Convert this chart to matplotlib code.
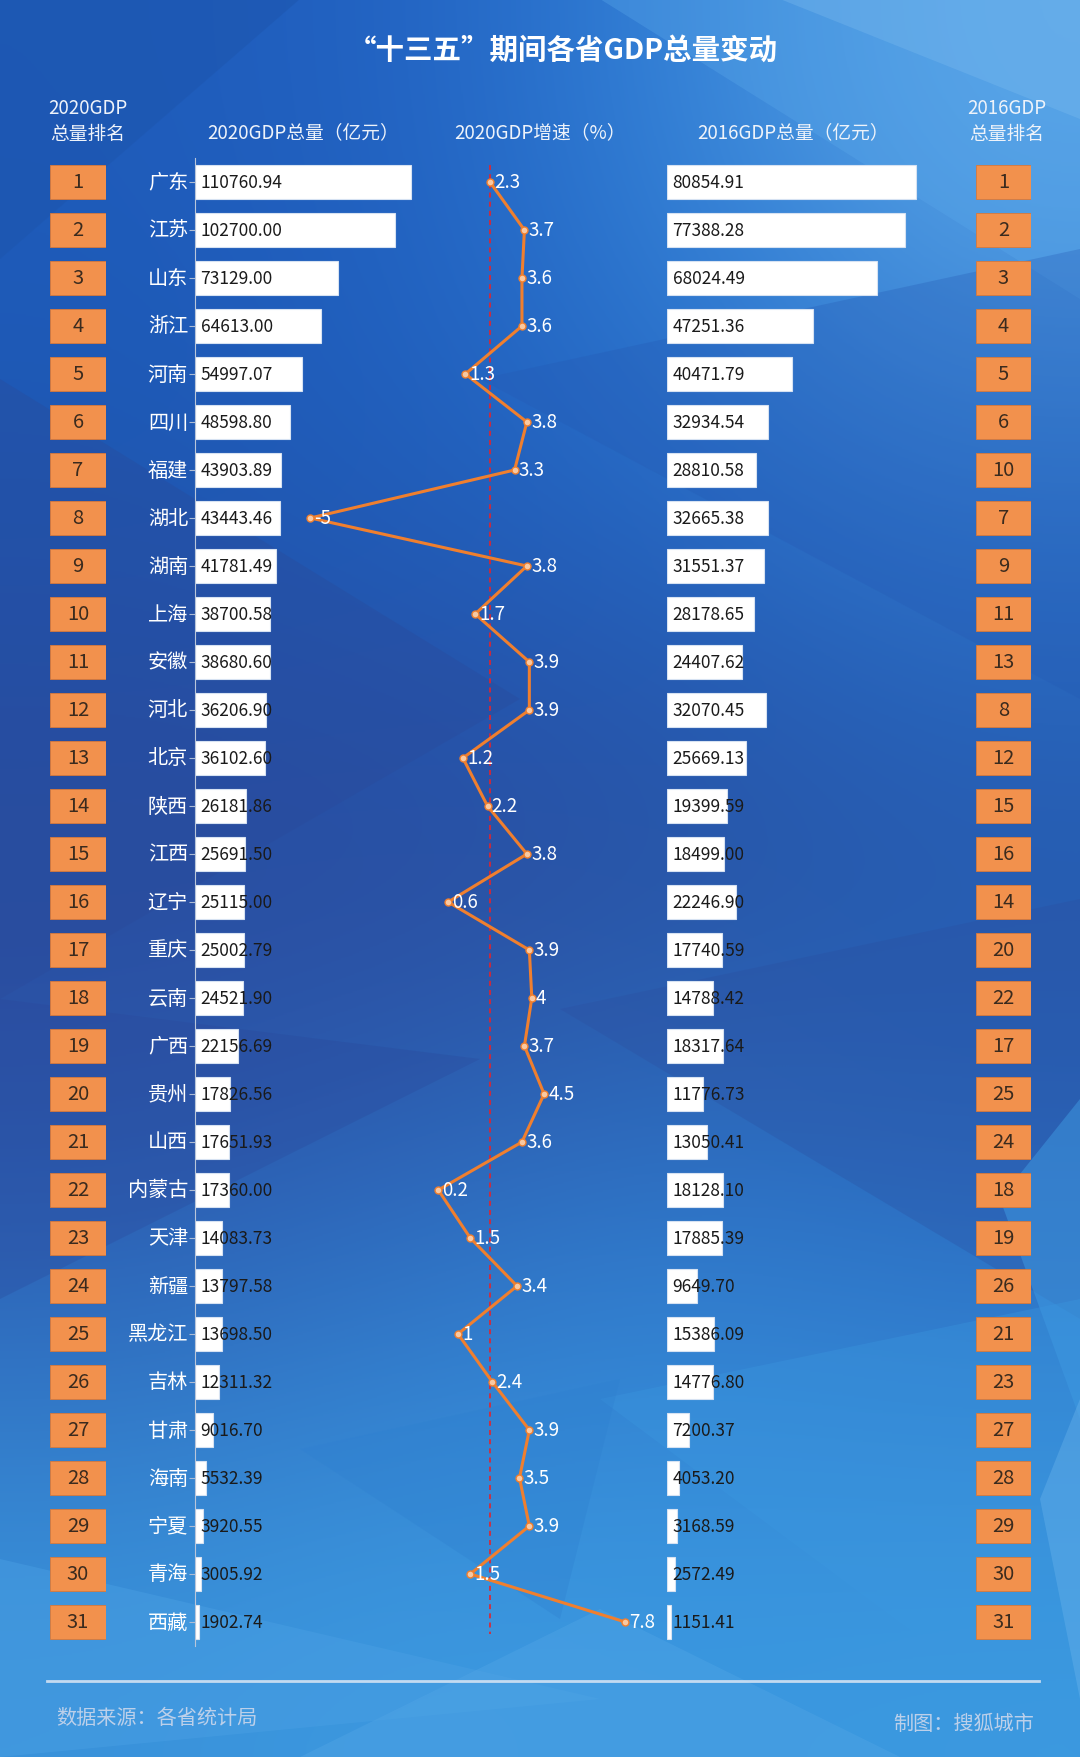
import numpy as np
import matplotlib.pyplot as plt
from matplotlib.patches import Polygon
from matplotlib.colors import to_rgb

plt.rcParams['font.family'] = ['Noto Sans CJK SC', 'DejaVu Sans']

provinces = ['广东', '江苏', '山东', '浙江', '河南', '四川', '福建', '湖北', '湖南', '上海',
             '安徽', '河北', '北京', '陕西', '江西', '辽宁', '重庆', '云南', '广西', '贵州',
             '山西', '内蒙古', '天津', '新疆', '黑龙江', '吉林', '甘肃', '海南', '宁夏', '青海', '西藏']
gdp_2020 = [110760.94, 102700.00, 73129.00, 64613.00, 54997.07, 48598.80, 43903.89, 43443.46,
            41781.49, 38700.58, 38680.60, 36206.90, 36102.60, 26181.86, 25691.50, 25115.00,
            25002.79, 24521.90, 22156.69, 17826.56, 17651.93, 17360.00, 14083.73, 13797.58,
            13698.50, 12311.32, 9016.70, 5532.39, 3920.55, 3005.92, 1902.74]
growth_2020 = [2.3, 3.7, 3.6, 3.6, 1.3, 3.8, 3.3, -5, 3.8, 1.7, 3.9, 3.9, 1.2, 2.2, 3.8, 0.6,
               3.9, 4, 3.7, 4.5, 3.6, 0.2, 1.5, 3.4, 1, 2.4, 3.9, 3.5, 3.9, 1.5, 7.8]
gdp_2016 = [80854.91, 77388.28, 68024.49, 47251.36, 40471.79, 32934.54, 28810.58, 32665.38,
            31551.37, 28178.65, 24407.62, 32070.45, 25669.13, 19399.59, 18499.00, 22246.90,
            17740.59, 14788.42, 18317.64, 11776.73, 13050.41, 18128.10, 17885.39, 9649.70,
            15386.09, 14776.80, 7200.37, 4053.20, 3168.59, 2572.49, 1151.41]
rank_2020 = list(range(1, 32))
rank_2016 = [1, 2, 3, 4, 5, 6, 10, 7, 9, 11, 13, 8, 12, 15, 16, 14, 20, 22, 17, 25, 24, 18,
             19, 26, 21, 23, 27, 28, 29, 30, 31]
national_growth = 2.3

W, H = 1080, 1758
fig = plt.figure(figsize=(W / 100, H / 100), dpi=100)


def box(x0, x1, y0=159, y1=1647):
    return [x0 / W, 1 - y1 / H, (x1 - x0) / W, (y1 - y0) / H]


# background: blue gradient with a few low-poly facets
bg = fig.add_axes([0, 0, 1, 1], zorder=-10)
bg.set_xlim(0, W)
bg.set_ylim(H, 0)
bg.axis('off')
grid = [['#1f5cbb', '#2262c2', '#3282d8', '#5aa6e8'],
        ['#1d57b2', '#1f5dba', '#2264c2', '#2a72cb'],
        ['#2b4a9b', '#2c4899', '#294d9c', '#2555a9'],
        ['#2a5db3', '#2c6bc0', '#2f7bcf', '#2b6ec4'],
        ['#3a94dc', '#3d9be1', '#3a98e0', '#3c9be1']]
img = np.array([[to_rgb(c) for c in row] for row in grid])
bg.imshow(img, extent=(0, W, H, 0), aspect='auto', interpolation='bicubic')
facets = [([(0, 0), (300, 0), (0, 260)], '#1d55ad', 0.5),
          ([(600, 0), (1080, 0), (1080, 300)], '#5aa8ea', 0.35),
          ([(780, 0), (1080, 0), (1080, 120)], '#7dbcef', 0.35),
          ([(0, 380), (520, 700), (0, 1000)], '#2a4a9a', 0.35),
          ([(480, 380), (1080, 250), (1080, 700)], '#2459b4', 0.3),
          ([(0, 1000), (480, 1060), (0, 1300)], '#2a479a', 0.3),
          ([(560, 1010), (1080, 900), (1080, 1320)], '#2b4e9f', 0.3),
          ([(1000, 1200), (1080, 1100), (1080, 1420)], '#3f9be2', 0.5),
          ([(0, 1560), (600, 1700), (0, 1758)], '#4aa0e4', 0.45),
          ([(300, 1758), (600, 1610), (900, 1758)], '#52a6e6', 0.4),
          ([(600, 1400), (1080, 1300), (1080, 1758)], '#3b98e0', 0.35),
          ([(300, 1450), (620, 1380), (560, 1620)], '#2e80d0', 0.35),
          ([(1040, 1500), (1080, 1400), (1080, 1700)], '#6ab4ec', 0.4)]
for pts, col, al in facets:
    bg.add_patch(Polygon(pts, closed=True, facecolor=col, edgecolor='none', alpha=al))
bg.plot([47, 1039], [1682, 1682], color='#dbe6f4', lw=2, alpha=0.85)

y = np.arange(len(provinces))

# 2020 GDP bars
ax20 = fig.add_axes(box(195, 520))
ax20.set_facecolor('none')
ax20.barh(y, gdp_2020, height=0.71, color='white', edgecolor='#d6e2f2', lw=0.8)
ax20.set_xlim(0, 325 / 0.00195)
ax20.set_ylim(30.5, -0.5)
ax20.set_yticks(y)
ax20.set_yticklabels([])
ax20.tick_params(axis='y', length=4, color='#aebcd4')
ax20.set_xticks([])
for s in ['top', 'right', 'bottom']:
    ax20.spines[s].set_visible(False)
ax20.spines['left'].set_color('#b9c6da')
ax20.spines['left'].set_linewidth(0.8)
for i, p in enumerate(provinces):
    ax20.annotate(p, (0, i), xytext=(-5, 0), textcoords='offset points',
                  ha='right', va='center', color='white', fontsize=14.5)
for i, v in enumerate(gdp_2020):
    ax20.annotate(f'{v:.2f}', (0, i), xytext=(4, 0), textcoords='offset points',
                  ha='left', va='center', color='#1a1a1a', fontsize=12.5)

# growth line
axl = fig.add_axes(box(300, 660))
axl.set_facecolor('none')
axl.set_xlim(-5.42, 9.21)
axl.set_ylim(30.5, -0.5)
axl.axis('off')
axl.vlines(national_growth, -0.35, 30.25, colors='#e3232d', linestyles=(0, (3, 2.5)),
           lw=1.2, zorder=1)
axl.plot(growth_2020, y, color='#f07f2e', lw=2.2, marker='o', ms=5,
         mfc='#f9c9a2', mec='#f07f2e', mew=1, zorder=2)
for i, g in enumerate(growth_2020):
    axl.annotate(f'{g:g}', (g, i), xytext=(3, 0), textcoords='offset points',
                 ha='left', va='center', color='white', fontsize=13.5, zorder=3)

# 2016 GDP bars
ax16 = fig.add_axes(box(667, 960))
ax16.set_facecolor('none')
ax16.barh(y, gdp_2016, height=0.71, color='white', edgecolor='#d6e2f2', lw=0.8)
ax16.set_xlim(0, 293 / 0.00308)
ax16.set_ylim(30.5, -0.5)
ax16.axis('off')
for i, v in enumerate(gdp_2016):
    ax16.annotate(f'{v:.2f}', (0, i), xytext=(4, 0), textcoords='offset points',
                  ha='left', va='center', color='#1a1a1a', fontsize=12.5)

# rank boxes
for x0, x1, ranks in [(50, 106, rank_2020), (976, 1031, rank_2016)]:
    axr = fig.add_axes(box(x0, x1))
    axr.set_facecolor('none')
    axr.barh(y, [1] * len(ranks), height=0.69, color='#f2914d', edgecolor='#d9793a', lw=0.6)
    axr.set_xlim(0, 1)
    axr.set_ylim(30.5, -0.5)
    axr.axis('off')
    for i, r in enumerate(ranks):
        axr.text(0.5, i, str(r), ha='center', va='center', color='#3b2b1e', fontsize=14.5)

# titles and headers
fig.text(563 / W, 1 - 51 / H, '“十三五”期间各省GDP总量变动', ha='center', va='center',
         color='white', fontsize=20.5, fontweight='bold')
hcol = '#eef3fa'
fig.text(88 / W, 1 - 108 / H, '2020GDP', ha='center', va='center', color=hcol, fontsize=13.5)
fig.text(88 / W, 1 - 134 / H, '总量排名', ha='center', va='center', color=hcol, fontsize=13.5)
fig.text(1007 / W, 1 - 108 / H, '2016GDP', ha='center', va='center', color=hcol, fontsize=13.5)
fig.text(1007 / W, 1 - 134 / H, '总量排名', ha='center', va='center', color=hcol, fontsize=13.5)
fig.text(303 / W, 1 - 133 / H, '2020GDP总量（亿元）', ha='center', va='center', color=hcol, fontsize=13.5)
fig.text(540 / W, 1 - 133 / H, '2020GDP增速（%）', ha='center', va='center', color=hcol, fontsize=13.5)
fig.text(793 / W, 1 - 133 / H, '2016GDP总量（亿元）', ha='center', va='center', color=hcol, fontsize=13.5)

fcol = '#bcd0ea'
fig.text(56 / W, 1 - 1719 / H, '数据来源：各省统计局', ha='left', va='center', color=fcol, fontsize=14.5)
fig.text(1034 / W, 1 - 1725 / H, '制图：搜狐城市', ha='right', va='center', color=fcol, fontsize=14.5)

fig.savefig('out.png', dpi=100)
